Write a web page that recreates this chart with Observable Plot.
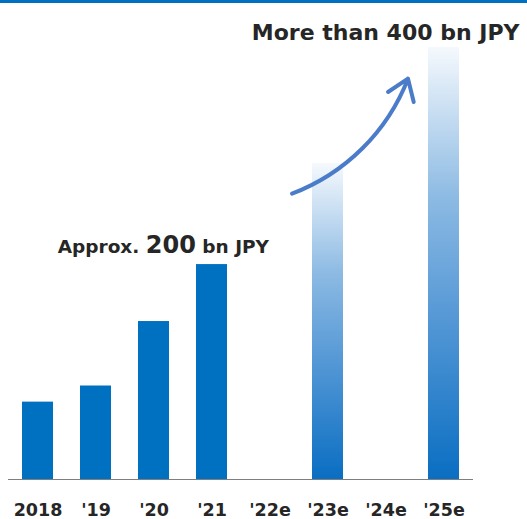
<!DOCTYPE html>
<html><head><meta charset="utf-8">
<script src="https://cdn.jsdelivr.net/npm/d3@7"></script>
<script src="https://cdn.jsdelivr.net/npm/@observablehq/plot@0.6"></script>
<style>
body{margin:0;background:#fff;}
#wrap{position:relative;width:527px;height:519px;}
#topline{position:absolute;left:0;top:0;width:527px;height:3px;background:#0070c0;}
</style></head><body><div id="wrap"><div id="topline"></div></div>
<script>
// Data
const years = ["2018", "'19", "'20", "'21", "'22e", "'23e", "'24e", "'25e"];
const values = [72, 87, 147, 200, null, 294, null, 402];
const forecast = [false, false, false, false, false, true, false, true];
const labelHigh = "More than 400 bn JPY";
const labelApprox = ["Approx.", "200", "bn JPY"];
const arrowFrom = ["'23e", 266];
const arrowTo = ["'25e", 373];

const rows = years.map((y, i) => ({year: y, value: values[i], forecast: forecast[i]})).filter(d => d.value != null);
const actual = rows.filter(d => !d.forecast);
const fc = rows.filter(d => d.forecast);

const chart = Plot.plot({
  width: 527,
  height: 519,
  marginLeft: 8,
  marginRight: 54,
  marginTop: 47,
  marginBottom: 40,
  style: {fontFamily: "DejaVu Sans", color: "#262626", background: "#fff"},
  x: {type: "band", domain: years, paddingInner: 0.466, paddingOuter: 0.233, label: null},
  y: {domain: [0, 402], axis: null},
  marks: [
    Plot.barY(actual, {x: "year", y: "value", fill: "#0070c0"}),
    Plot.barY(fc, {x: "year", y: "value", fill: "url(#fgrad)"}),
    Plot.ruleY([0], {stroke: "#7f7f7f", strokeWidth: 1.2}),
    Plot.axisX({tickSize: 0, tickPadding: 24, fontSize: 17.5, fontWeight: "bold", fill: "#262626", label: null}),
    Plot.arrow([{x1: arrowFrom[0], y1: arrowFrom[1], x2: arrowTo[0], y2: arrowTo[1]}], {
      x1: "x1", y1: "y1", x2: "x2", y2: "y2", dx: -36, bend: -24,
      stroke: "#4a7cc9", strokeWidth: 4, headLength: 9, headAngle: 70
    }),
    Plot.text([labelHigh], {frameAnchor: "top-right", text: d => d, dx: 46, dy: -23, textAnchor: "end",
      fontSize: 22, fontWeight: "bold", fill: "#262626"}),
    Plot.text([labelApprox.join(" ")], {x: () => "'21", y: () => 200, text: d => d, dx: 57, dy: -17,
      textAnchor: "end", fontSize: 18.5, fontWeight: "bold", fill: "#262626"})
  ]
});

const svg = d3.select(chart);
const defs = svg.insert("defs", ":first-child");
const grad = defs.append("linearGradient").attr("id", "fgrad")
  .attr("x1", 0).attr("y1", 0).attr("x2", 0).attr("y2", 1);
[[0, "#f5f9fd"], [0.35, "#8cbae3"], [0.6, "#5a9bd7"], [1, "#0a6ec2"]].forEach(([o, c]) =>
  grad.append("stop").attr("offset", o).attr("stop-color", c));

svg.selectAll("text").filter(function() { return this.textContent === labelApprox.join(" "); })
  .each(function() {
    const t = d3.select(this);
    t.text(null);
    t.append("tspan").attr("font-size", 18.5).text(labelApprox[0] + " ");
    t.append("tspan").attr("font-size", 24).text(labelApprox[1]);
    t.append("tspan").attr("font-size", 18.5).text(" " + labelApprox[2]);
  });

document.getElementById("wrap").appendChild(chart);
</script></body></html>
